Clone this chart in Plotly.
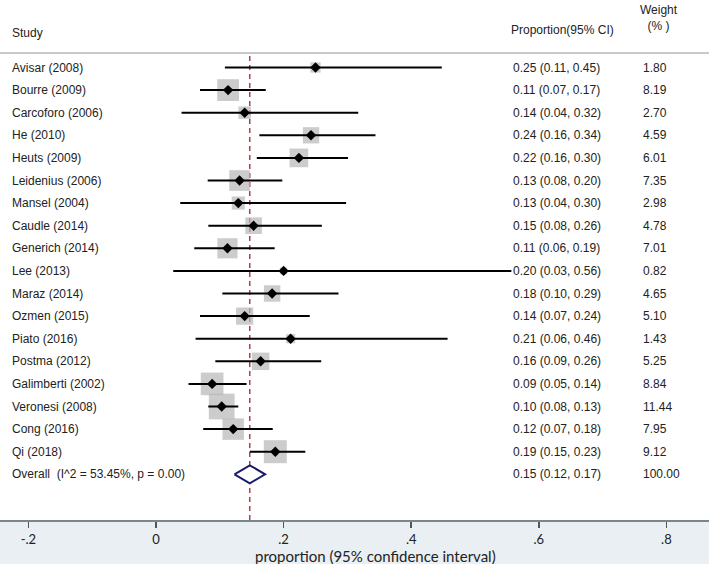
import math
import plotly.graph_objects as go

# ---------------- data ----------------
studies = ["Avisar (2008)", "Bourre (2009)", "Carcoforo (2006)", "He (2010)", "Heuts (2009)",
           "Leidenius (2006)", "Mansel (2004)", "Caudle (2014)", "Generich (2014)", "Lee (2013)",
           "Maraz (2014)", "Ozmen (2015)", "Piato (2016)", "Postma (2012)", "Galimberti (2002)",
           "Veronesi (2008)", "Cong (2016)", "Qi (2018)"]
es = [0.250, 0.113, 0.139, 0.243, 0.224, 0.131, 0.129, 0.153, 0.112, 0.200,
      0.182, 0.139, 0.211, 0.164, 0.088, 0.103, 0.121, 0.187]
lo = [0.108, 0.069, 0.040, 0.162, 0.158, 0.081, 0.038, 0.082, 0.060, 0.027,
      0.104, 0.069, 0.062, 0.093, 0.051, 0.082, 0.074, 0.147]
hi = [0.448, 0.172, 0.317, 0.344, 0.301, 0.198, 0.298, 0.260, 0.186, 0.557,
      0.286, 0.241, 0.457, 0.259, 0.142, 0.129, 0.183, 0.234]
weights = [1.80, 8.19, 2.70, 4.59, 6.01, 7.35, 2.98, 4.78, 7.01, 0.82,
           4.65, 5.10, 1.43, 5.25, 8.84, 11.44, 7.95, 9.12]
overall_label = "Overall  (I^2 = 53.45%, p = 0.00)"
overall_es, overall_lo, overall_hi, overall_w = 0.147, 0.123, 0.171, 100.00
tick_vals = [-0.2, 0, 0.2, 0.4, 0.6, 0.8]
tick_text = ["-.2", "0", ".2", ".4", ".6", ".8"]
x_title = "proportion (95% confidence interval)"

# ---------------- style ----------------
W, H = 709, 564
BOTTOM = 44
PLOT_H = H - BOTTOM
ROW0_PX, ROW_PX = 67.5, 22.6
X0_PX, X_UNIT = 156.0, 638.0
TXT = dict(family="Liberation Sans, Arial, sans-serif", size=12, color="#222222")
TICKF = dict(family="Lato, Liberation Sans Narrow, sans-serif", size=13, color="#222222")
TITF = dict(family="Lato, Liberation Sans Narrow, sans-serif", size=15, color="#222222")

n = len(studies)
rows = list(range(n))
overall_row = n

fig = go.Figure()

# weight boxes
fig.add_trace(go.Scatter(
    x=es, y=rows, mode="markers",
    marker=dict(symbol="square", size=[7.62 * math.sqrt(w) for w in weights],
                color="#b7b7b7", line=dict(width=0)),
    hoverinfo="skip", showlegend=False))

# CI lines
cx, cy = [], []
for i in rows:
    cx += [lo[i], hi[i], None]
    cy += [i, i, None]
fig.add_trace(go.Scatter(x=cx, y=cy, mode="lines", line=dict(color="black", width=2),
                         hoverinfo="skip", showlegend=False))

# point estimates
fig.add_trace(go.Scatter(x=es, y=rows, mode="markers",
                         marker=dict(symbol="diamond", size=8, color="black"),
                         hoverinfo="skip", showlegend=False))

# overall diamond
dh = 9.0 / ROW_PX
fig.add_trace(go.Scatter(
    x=[overall_lo, overall_es, overall_hi, overall_es, overall_lo],
    y=[overall_row, overall_row - dh, overall_row, overall_row + dh, overall_row],
    mode="lines", fill="toself", fillcolor="white",
    line=dict(color="#1c1c6e", width=2), hoverinfo="skip", showlegend=False))

def py(px):
    return (PLOT_H - px) / PLOT_H

shapes = [
    dict(type="line", xref="paper", yref="paper", x0=0, x1=1, y0=py(53), y1=py(53),
         line=dict(color="#c9c9c9", width=2)),
    dict(type="line", xref="x", yref="paper", x0=overall_es, x1=overall_es, y0=0, y1=py(54),
         line=dict(color="#a3262e", width=1.3, dash="5px,4px"), layer="below"),
]

ann = []
for i in rows:
    ann.append(dict(x=10 / W, xref="paper", y=i, yref="y", text=studies[i], showarrow=False,
                    xanchor="left", yanchor="middle", font=TXT))
    ann.append(dict(x=511 / W, xref="paper", y=i, yref="y",
                    text=f"{es[i]:.2f} ({lo[i]:.2f}, {hi[i]:.2f})", showarrow=False,
                    xanchor="left", yanchor="middle", font=TXT))
    ann.append(dict(x=641 / W, xref="paper", y=i, yref="y", text=f"{weights[i]:.2f}",
                    showarrow=False, xanchor="left", yanchor="middle", font=TXT))
ann.append(dict(x=10 / W, xref="paper", y=overall_row, yref="y", text=overall_label,
                showarrow=False, xanchor="left", yanchor="middle", font=TXT))
ann.append(dict(x=511 / W, xref="paper", y=overall_row, yref="y",
                text=f"{overall_es:.2f} ({overall_lo:.2f}, {overall_hi:.2f})", showarrow=False,
                xanchor="left", yanchor="middle", font=TXT))
ann.append(dict(x=641 / W, xref="paper", y=overall_row, yref="y", text=f"{overall_w:.2f}",
                showarrow=False, xanchor="left", yanchor="middle", font=TXT))

# headers
ann.append(dict(x=10 / W, xref="paper", y=py(33), yref="paper", text="Study", showarrow=False,
                xanchor="left", yanchor="middle", font=TXT))
ann.append(dict(x=509 / W, xref="paper", y=py(30), yref="paper", text="Proportion(95% CI)",
                showarrow=False, xanchor="left", yanchor="middle", font=TXT))
ann.append(dict(x=659 / W, xref="paper", y=py(18), yref="paper", text="Weight<br>(% )",
                showarrow=False, xanchor="center", yanchor="middle", font=TXT))
# axis title
ann.append(dict(x=376 / W, xref="paper", y=py(556), yref="paper", text=x_title,
                showarrow=False, xanchor="center", yanchor="middle", font=TITF,
                borderpad=0))

fig.update_layout(
    width=W, height=H,
    margin=dict(l=0, r=0, t=0, b=BOTTOM, pad=0),
    paper_bgcolor="#e9eff3", plot_bgcolor="white",
    showlegend=False,
    shapes=shapes, annotations=ann,
    xaxis=dict(range=[-X0_PX / X_UNIT, (W - X0_PX) / X_UNIT], showgrid=False, zeroline=False,
               showline=True, linecolor="#7d858c", linewidth=2,
               ticks="outside", ticklen=6, tickwidth=1.5, tickcolor="#555555",
               tickvals=tick_vals, ticktext=tick_text, tickfont=TICKF, fixedrange=True),
    yaxis=dict(range=[(PLOT_H - ROW0_PX) / ROW_PX, -ROW0_PX / ROW_PX], visible=False,
               showgrid=False, zeroline=False, fixedrange=True),
)

# remove the browser's default body margin so the figure starts at the window's corner
fig.write_html("out.html",
               config={"displayModeBar": False, "staticPlot": True},
               post_script="document.body.style.margin='0px'; document.body.style.overflow='hidden';")
